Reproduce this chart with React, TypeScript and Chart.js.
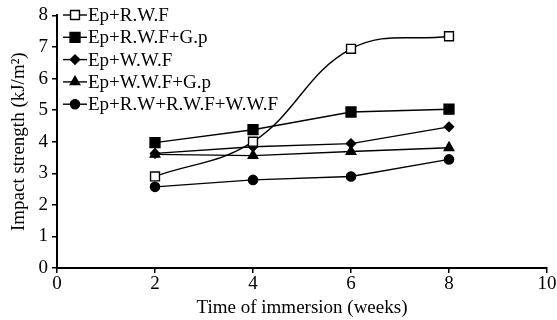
import React, { useEffect, useRef } from "react";
import { Chart, registerables } from "chart.js";

Chart.register(...registerables);

const weeks = [2, 4, 6, 8];
const seriesNames = [
  "Ep+R.W.F",
  "Ep+R.W.F+G.p",
  "Ep+W.W.F",
  "Ep+W.W.F+G.p",
  "Ep+R.W+R.W.F+W.W.F",
];
const epRWF = [2.9, 4.0, 6.94, 7.34];
const epRWFGp = [3.97, 4.38, 4.94, 5.03];
const epWWF = [3.63, 3.84, 3.94, 4.47];
const epWWFGp = [3.6, 3.56, 3.69, 3.81];
const epAll = [2.57, 2.79, 2.9, 3.44];
const xTicks = [0, 2, 4, 6, 8, 10];
const yTicks = [0, 1, 2, 3, 4, 5, 6, 7, 8];

const FONT = "'Liberation Serif', 'Times New Roman', serif";
const FS = 19;

const styles = [
  { pointStyle: "rect", radius: 6.3, fill: "#ffffff" },
  { pointStyle: "rect", radius: 7, fill: "#000000" },
  { pointStyle: "rectRot", radius: 4.6, fill: "#000000" },
  { pointStyle: "triangle", radius: 5.5, fill: "#000000" },
  { pointStyle: "circle", radius: 4.6, fill: "#000000" },
];

function drawMarker(ctx: CanvasRenderingContext2D, style: string, r: number, x: number, y: number) {
  ctx.beginPath();
  if (style === "rect") {
    const s = Math.SQRT1_2 * r;
    ctx.rect(x - s, y - s, 2 * s, 2 * s);
  } else if (style === "rectRot") {
    ctx.moveTo(x, y - r);
    ctx.lineTo(x + r, y);
    ctx.lineTo(x, y + r);
    ctx.lineTo(x - r, y);
    ctx.closePath();
  } else if (style === "triangle") {
    ctx.moveTo(x, y - r);
    ctx.lineTo(x + r * 0.866, y + r * 0.5);
    ctx.lineTo(x - r * 0.866, y + r * 0.5);
    ctx.closePath();
  } else {
    ctx.arc(x, y, r, 0, Math.PI * 2);
  }
  ctx.fill();
  ctx.stroke();
}

const legendPlugin = {
  id: "innerLegend",
  afterDraw(chart: any) {
    const ctx = chart.ctx;
    ctx.save();
    chart.data.datasets.forEach((ds: any, i: number) => {
      const y = 15 + i * 22.3;
      ctx.strokeStyle = "#000";
      ctx.lineWidth = 1.4;
      ctx.beginPath();
      ctx.moveTo(63, y);
      ctx.lineTo(87, y);
      ctx.stroke();
      ctx.fillStyle = ds.pointBackgroundColor;
      drawMarker(ctx, ds.pointStyle, ds.pointRadius, 75, y);
      ctx.fillStyle = "#000";
      ctx.font = `${FS}px ${FONT}`;
      ctx.textBaseline = "middle";
      ctx.textAlign = "left";
      ctx.fillText(ds.label, 88, y + 1);
    });
    ctx.restore();
  },
};

export default function App() {
  const ref = useRef<HTMLCanvasElement>(null);
  useEffect(() => {
    document.body.style.margin = "0";
    const allSeries = [epRWF, epRWFGp, epWWF, epWWFGp, epAll];
    const chart = new Chart(ref.current!, {
      type: "line",
      data: {
        datasets: allSeries.map((vals, i) => ({
          label: seriesNames[i],
          data: weeks.map((w, j) => ({ x: w, y: vals[j] })),
          borderColor: "#000",
          borderWidth: 1.4,
          pointStyle: styles[i].pointStyle as any,
          pointRadius: styles[i].radius,
          pointHoverRadius: styles[i].radius,
          pointBackgroundColor: styles[i].fill,
          pointBorderColor: "#000",
          pointBorderWidth: 1.4,
          tension: i === 0 ? 0.4 : 0,
          fill: false,
        })),
      },
      plugins: [legendPlugin],
      options: {
        animation: false,
        responsive: false,
        layout: { padding: { top: 12, right: 10, left: 0, bottom: 0 } },
        plugins: { legend: { display: false }, tooltip: { enabled: false } },
        scales: {
          x: {
            type: "linear",
            min: 0,
            max: 10,
            afterBuildTicks: (s: any) => {
              s.ticks = xTicks.map((v) => ({ value: v }));
            },
            afterFit: (s: any) => {
              s.height = 52;
            },
            grid: { drawOnChartArea: false, tickLength: 5, color: "#000", lineWidth: 1.5 },
            border: { display: true, color: "#000", width: 2 },
            ticks: { color: "#000", font: { family: FONT, size: FS }, padding: 0, maxRotation: 0 },
            title: {
              display: true,
              text: "Time of immersion (weeks)",
              color: "#000",
              font: { family: FONT, size: FS },
              padding: { top: 0, bottom: 1 },
            },
          },
          y: {
            type: "linear",
            min: 0,
            max: 8,
            afterBuildTicks: (s: any) => {
              s.ticks = yTicks.map((v) => ({ value: v }));
            },
            afterFit: (s: any) => {
              s.width = 57;
            },
            grid: { drawOnChartArea: false, tickLength: 5, color: "#000", lineWidth: 1.5 },
            border: { display: true, color: "#000", width: 2 },
            ticks: { color: "#000", font: { family: FONT, size: FS }, padding: 4 },
            title: {
              display: true,
              text: "Impact strength (kJ/m²)",
              color: "#000",
              font: { family: FONT, size: FS },
              padding: { top: 8, bottom: 0 },
            },
          },
        },
      },
    } as any);
    return () => chart.destroy();
  }, []);
  return <canvas ref={ref} width={557} height={320} style={{ display: "block" }} />;
}
